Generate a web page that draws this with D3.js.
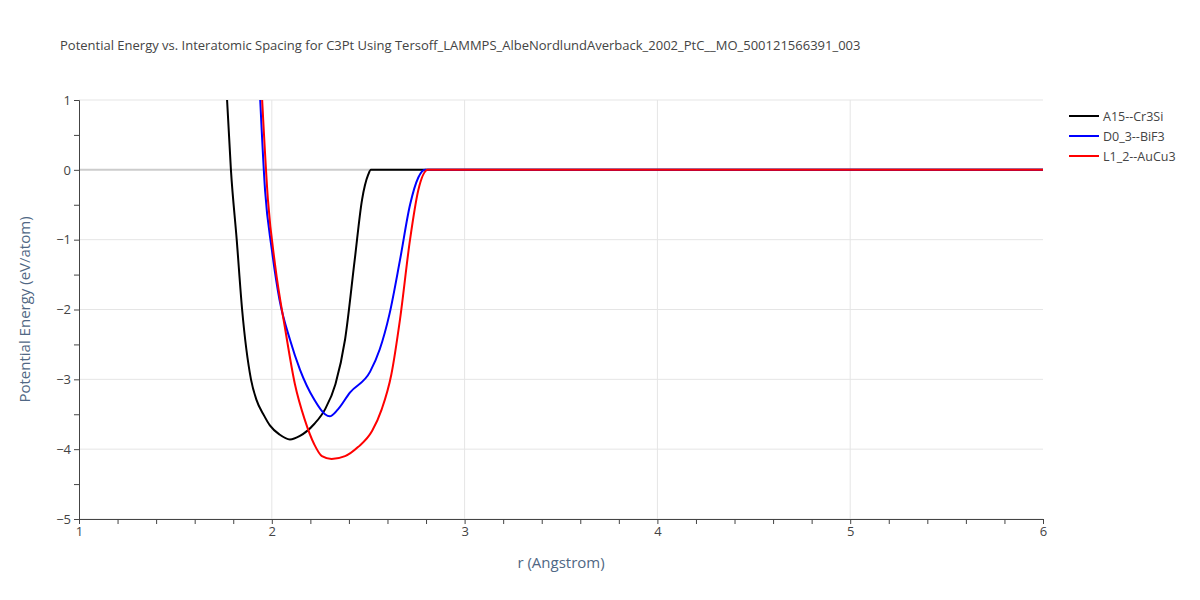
<!DOCTYPE html>
<html><head><meta charset="utf-8">
<script src="https://cdn.jsdelivr.net/npm/d3@7"></script>
<style>body{margin:0;font-family:"Open Sans",sans-serif;}</style>
</head><body><svg id="c" width="1200" height="600"></svg>
<script>
var seriesNames = ['A15--Cr3Si', 'D0_3--BiF3', 'L1_2--AuCu3'];
var seriesColors = ['#000000', '#0000ff', '#ff0000'];
var a15 = [[1.768,1],[1.788,0],[1.818,-1],[1.846,-2],[1.892,-3],[1.92,-3.29],[1.96,-3.52],[1.99,-3.66],[2.04,-3.79],[2.094,-3.86],[2.146,-3.81],[2.22,-3.64],[2.276,-3.43],[2.33,-3.07],[2.38,-2.43],[2.43,-1.29],[2.468,-0.43],[2.5,-0.07],[2.514,0],[6,0]];
var d03 = [[1.94,1],[1.965,-0.29],[2.0,-1.14],[2.04,-1.86],[2.094,-2.43],[2.146,-2.86],[2.22,-3.29],[2.276,-3.5],[2.3,-3.53],[2.343,-3.43],[2.405,-3.19],[2.51,-2.89],[2.56,-2.57],[2.61,-2.07],[2.665,-1.29],[2.717,-0.5],[2.76,-0.11],[2.795,0],[6,0]];
var l12 = [[1.95,1],[1.98,-0.43],[2.017,-1.36],[2.07,-2.29],[2.12,-3.07],[2.17,-3.57],[2.22,-3.93],[2.26,-4.1],[2.31,-4.14],[2.38,-4.1],[2.447,-3.97],[2.52,-3.74],[2.57,-3.43],[2.62,-2.93],[2.665,-2.14],[2.717,-1.0],[2.76,-0.29],[2.81,0],[6,0]];
var xTicks = [1, 2, 3, 4, 5, 6];
var yTicks = [1, 0, -1, -2, -3, -4, -5];
var series = [a15, d03, l12];

var svg = d3.select('#c');
var m = {l: 79, r: 157, t: 100, b: 81};
var W = 1200, H = 600;
var x = d3.scaleLinear().domain([1, 6]).range([m.l, W - m.r]);
var y = d3.scaleLinear().domain([-5, 1]).range([H - m.b, m.t]);

svg.append('defs').append('clipPath').attr('id', 'clip').append('rect')
  .attr('x', m.l).attr('y', m.t).attr('width', W - m.l - m.r).attr('height', H - m.t - m.b);

svg.append('g').selectAll('line').data(xTicks.slice(1, -1)).join('line')
  .attr('x1', x).attr('x2', x).attr('y1', m.t).attr('y2', H - m.b)
  .attr('stroke', '#e5e5e5');
svg.append('g').selectAll('line').data(yTicks).join('line')
  .attr('x1', m.l).attr('x2', W - m.r).attr('y1', y).attr('y2', y)
  .attr('stroke', function(d) { return d === 0 ? '#cccccc' : '#e5e5e5'; })
  .attr('stroke-width', function(d) { return d === 0 ? 2 : 1; });

var xAxis = svg.append('g').attr('transform', 'translate(0,' + (H - m.b) + ')')
  .call(d3.axisBottom(x).tickValues(d3.range(1, 6.01, 0.2)).tickSize(5)
    .tickFormat(function(d) { return Math.abs(d - Math.round(d)) < 1e-6 ? d3.format('d')(Math.round(d)) : ''; }));
var yAxis = svg.append('g').attr('transform', 'translate(' + m.l + ',0)')
  .call(d3.axisLeft(y).tickValues(d3.range(-5, 1.01, 0.5)).tickSize(5)
    .tickFormat(function(d) { return Number.isInteger(d) ? (d < 0 ? '\u2212' + (-d) : d) : ''; }));
[xAxis, yAxis].forEach(function(a) {
  a.select('.domain').attr('stroke', '#444');
  a.selectAll('.tick line').attr('stroke', '#444');
  a.selectAll('text').attr('fill', '#444').style('font-size', '13px').style('font-family', '"Open Sans",sans-serif');
});

var line = d3.line().x(function(d) { return x(d[0]); }).y(function(d) { return y(d[1]); }).curve(d3.curveMonotoneX);
svg.append('g').attr('clip-path', 'url(#clip)').selectAll('path').data(series).join('path')
  .attr('d', line).attr('fill', 'none')
  .attr('stroke', function(d, i) { return seriesColors[i]; }).attr('stroke-width', 2);

svg.append('text').attr('x', 60).attr('y', 50).text('Potential Energy vs. Interatomic Spacing for C3Pt Using Tersoff_LAMMPS_AlbeNordlundAverback_2002_PtC__MO_500121566391_003')
  .attr('fill', '#444').style('font-size', '13px');
svg.append('text').attr('x', x(3.5)).attr('y', 568).attr('text-anchor', 'middle').text('r (Angstrom)')
  .attr('fill', '#506784').style('font-size', '15px');
svg.append('text').attr('transform', 'translate(30,' + y(-2) + ') rotate(-90)').attr('text-anchor', 'middle')
  .text('Potential Energy (eV/atom)').attr('fill', '#506784').style('font-size', '15px');

var lg = svg.append('g').selectAll('g').data(seriesNames).join('g')
  .attr('transform', function(d, i) { return 'translate(1069,' + (116 + i * 20) + ')'; });
lg.append('line').attr('x1', 0).attr('x2', 30).attr('stroke', function(d, i) { return seriesColors[i]; }).attr('stroke-width', 2);
lg.append('text').attr('x', 34).attr('y', 4.5).text(function(d) { return d; }).attr('fill', '#444').style('font-size', '12.5px');
</script></body></html>
